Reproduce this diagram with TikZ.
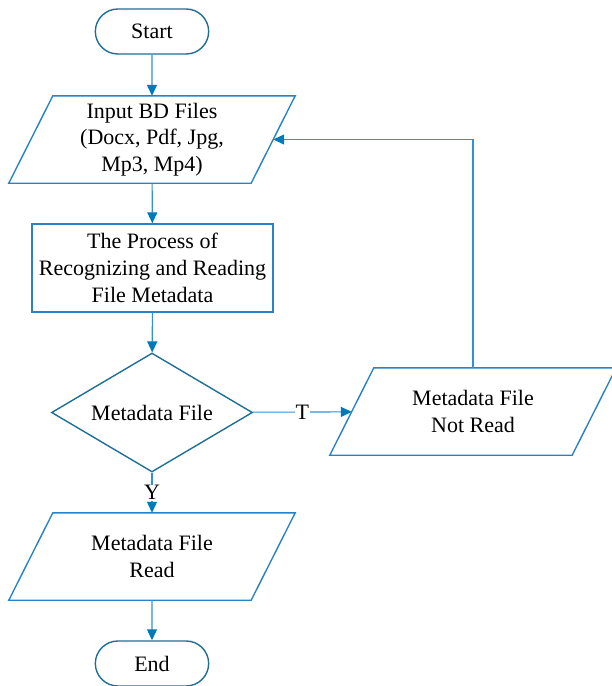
\documentclass[tikz,border=0pt]{standalone}
\usepackage{fontspec}
\setmainfont{Liberation Serif}
\definecolor{flowteal}{RGB}{30,110,150}
\definecolor{flowblue}{RGB}{40,130,200}
\definecolor{linkblue}{RGB}{50,145,210}
\definecolor{tipblue}{RGB}{0,122,185}
\usetikzlibrary{shapes.geometric, shapes.misc, arrows.meta}
\newcommand{\ioframe}[1]{\draw[flowblue, line width=1.4pt] ([xshift=22pt]#1.north west) -- ([xshift=22pt]#1.north east) -- ([xshift=-22pt]#1.south east) -- ([xshift=-22pt]#1.south west) -- cycle;}

\begin{document}
\begin{tikzpicture}[x=1pt, y=-1pt,
  every node/.style={font=\fontsize{22}{26.7}\selectfont, text=black},
  term/.style={rounded rectangle, draw=flowteal, line width=1.4pt, minimum width=120pt, minimum height=45pt},
  iobox/.style={rectangle, minimum width=242pt, minimum height=87pt, align=center, inner sep=0pt},
  procbox/.style={rectangle, draw=flowblue, line width=1.4pt, minimum width=241pt, minimum height=88pt, align=center, inner sep=0pt},
  decide/.style={diamond, draw=flowteal, line width=1.4pt, minimum width=201pt, minimum height=119pt, aspect=1.69, inner sep=0pt},
  link/.style={draw=linkblue, line width=1.1pt, -{Triangle[length=11pt, width=10pt, fill=tipblue, color=tipblue]}},
  tag/.style={fill=white, inner sep=1pt}
]
  \useasboundingbox (0,0) rectangle (612,686);
  \node[term] (start) at (152, 31.5) {Start};
  \node[iobox] (input) at (152, 139.5) {Input BD Files\\(Docx, Pdf, Jpg,\\Mp3, Mp4)};
  \ioframe{input}
  \node[procbox] (proc) at (152.5, 268) {The Process of\\Recognizing and Reading\\File Metadata};
  \node[decide] (check) at (152, 412.5) {Metadata File};
  \node[iobox] (notread) at (473, 411.5) {Metadata File\\Not Read};
  \ioframe{notread}
  \node[iobox] (read) at (152, 556.5) {Metadata File\\Read};
  \ioframe{read}
  \node[term] (end) at (152, 663.5) {End};

  \draw[link] (start) -- (input);
  \draw[link] (input) -- (proc);
  \draw[link] (proc) -- (check);
  \draw[link] (check) -- node[tag] {T} (notread);
  \draw[link] (check) -- node[tag] {Y} (read);
  \draw[link] (read) -- (end);
  \draw[link] (notread.north) |- (input.east);
\end{tikzpicture}
\end{document}
